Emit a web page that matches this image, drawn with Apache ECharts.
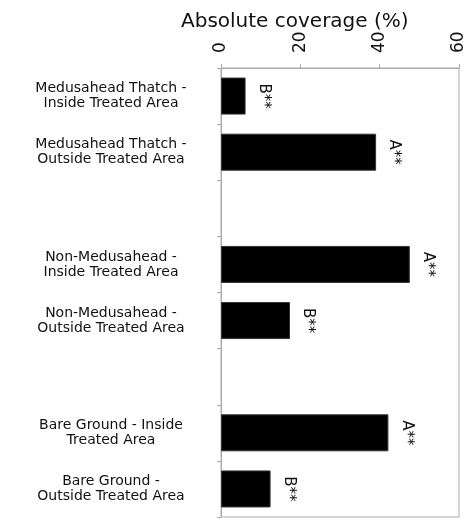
<!DOCTYPE html>
<html>
<head>
<meta charset="utf-8">
<script src="https://cdn.jsdelivr.net/npm/echarts@6/dist/echarts.min.js"></script>
<style>
  html, body { margin: 0; padding: 0; background: #fff; }
  #main { width: 469px; height: 519px; }
</style>
</head>
<body>
<div id="main"></div>
<script>
// categories top to bottom, blanks are the gaps between groups
var categories = [
  'Medusahead Thatch -\nInside Treated Area',
  'Medusahead Thatch -\nOutside Treated Area',
  '',
  'Non-Medusahead -\nInside Treated Area',
  'Non-Medusahead -\nOutside Treated Area',
  ' ',
  'Bare Ground - Inside\nTreated Area',
  'Bare Ground -\nOutside Treated Area'
]
var coverage = [6.2, 39.1, null, 47.6, 17.4, null, 42.2, 12.5]
var letters = ['B**', 'A**', '', 'A**', 'B**', '', 'A**', 'B**']
var xTicks = [0, 20, 40, 60]

var myChart = echarts.init(document.getElementById('main'))
var option
option = {
  animation: false,
  textStyle: {
    fontFamily: 'DejaVu Sans'
  },
  title: {
    text: 'Absolute coverage (%)',
    left: 176,
    top: 7,
    textStyle: {
      fontFamily: 'DejaVu Sans',
      fontWeight: 'normal',
      fontSize: 20,
      color: '#111'
    }
  },
  grid: {
    left: 221,
    right: 10,
    top: 68,
    bottom: 2,
    show: true,
    borderColor: '#aaa',
    borderWidth: 1
  },
  xAxis: {
    type: 'value',
    position: 'top',
    min: xTicks[0],
    max: xTicks[xTicks.length - 1],
    interval: 20,
    splitLine: { show: false },
    axisLine: { show: true, lineStyle: { color: '#aaa' } },
    axisTick: { show: true, length: 4, lineStyle: { color: '#aaa' } },
    axisLabel: {
      rotate: -90,
      margin: 15,
      fontSize: 17,
      color: '#111'
    }
  },
  yAxis: {
    type: 'category',
    inverse: true,
    data: categories,
    axisLine: { show: true, lineStyle: { color: '#aaa' } },
    axisTick: { show: true, length: 4, lineStyle: { color: '#aaa' } },
    axisLabel: {
      align: 'center',
      margin: 110,
      fontSize: 14,
      lineHeight: 15,
      color: '#111'
    }
  },
  series: [
    {
      name: 'coverage',
      type: 'bar',
      barWidth: 37,
      data: coverage,
      itemStyle: {
        color: '#000',
        borderColor: '#333',
        borderWidth: 1
      },
      label: {
        show: true,
        position: 'right',
        distance: 18,
        rotate: -90,
        align: 'center',
        verticalAlign: 'middle',
        fontSize: 15,
        color: '#111',
        formatter: function (p) {
          return letters[p.dataIndex]
        }
      }
    }
  ]
}
option && myChart.setOption(option)
</script>
</body>
</html>
